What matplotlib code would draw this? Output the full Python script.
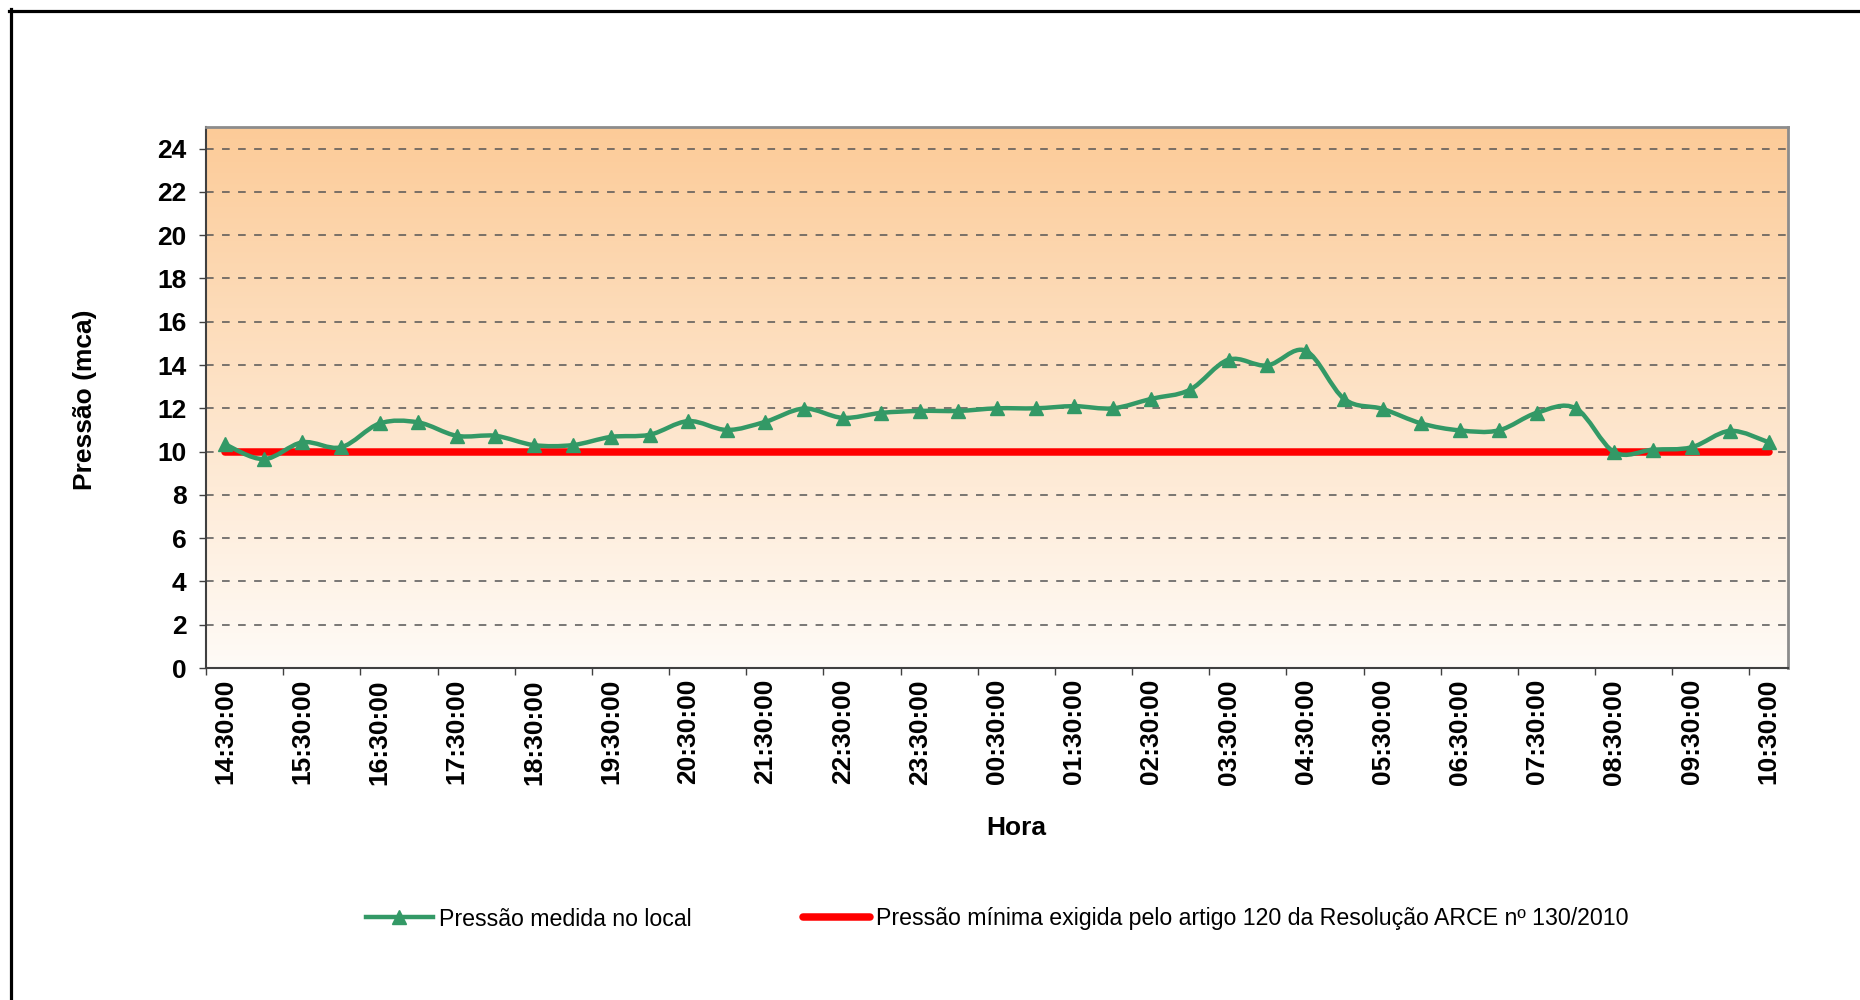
import numpy as np
import matplotlib
matplotlib.use("Agg")
import matplotlib.pyplot as plt
from matplotlib.path import Path
from matplotlib.patches import PathPatch
from matplotlib.lines import Line2D

plt.rcParams['font.family'] = ['Liberation Sans', 'DejaVu Sans']

# ---- data ----
horas = ["14:30:00", "15:00:00", "15:30:00", "16:00:00", "16:30:00", "17:00:00",
         "17:30:00", "18:00:00", "18:30:00", "19:00:00", "19:30:00", "20:00:00",
         "20:30:00", "21:00:00", "21:30:00", "22:00:00", "22:30:00", "23:00:00",
         "23:30:00", "00:00:00", "00:30:00", "01:00:00", "01:30:00", "02:00:00",
         "02:30:00", "03:00:00", "03:30:00", "04:00:00", "04:30:00", "05:00:00",
         "05:30:00", "06:00:00", "06:30:00", "07:00:00", "07:30:00", "08:00:00",
         "08:30:00", "09:00:00", "09:30:00", "10:00:00", "10:30:00"]
pressao_medida = [10.33, 9.65, 10.43, 10.2, 11.3, 11.35, 10.73, 10.73, 10.3, 10.3,
                  10.68, 10.78, 11.41, 11.0, 11.38, 11.99, 11.56, 11.79, 11.88, 11.88,
                  12.0, 12.0, 12.1, 12.0, 12.44, 12.86, 14.25, 13.98, 14.66, 12.43,
                  11.97, 11.3, 10.98, 10.98, 11.8, 12.0, 9.97, 10.09, 10.2, 10.96, 10.43]
pressao_minima = 10
yticks = list(range(0, 25, 2))

label_medida = "Pressão medida no local"
label_minima = "Pressão mínima exigida pelo artigo 120 da Resolução ARCE nº 130/2010"

GREEN = "#339966"
RED = "#FF0000"

W, H = 1860, 1000
fig = plt.figure(figsize=(W / 100, H / 100), dpi=100)
fig.patch.set_facecolor("white")

L, R, T, B = 206, 1788, 127, 668
ax = fig.add_axes([L / W, 1 - B / H, (R - L) / W, (B - T) / H])

# background gradient
top = np.array([252, 203, 152]) / 255
bot = np.array([255, 251, 247]) / 255
t = np.linspace(0, 1, 256)[:, None]
grad = (top[None, :] * (1 - t) + bot[None, :] * t)[:, None, :]
ax.imshow(grad, extent=[0, 1, 0, 1], transform=ax.transAxes, aspect='auto', zorder=0)

x = np.arange(len(horas))

# minimum pressure line
ax.plot(x, [pressao_minima] * len(x), color=RED, lw=5.4, solid_capstyle='round', zorder=3)

# smoothed measured line (Catmull-Rom as cubic Bezier)
pts = np.column_stack([x, pressao_medida]).astype(float)
verts = [tuple(pts[0])]
codes = [Path.MOVETO]
n = len(pts)
for i in range(n - 1):
    p0 = pts[i - 1] if i > 0 else pts[i]
    p1 = pts[i]
    p2 = pts[i + 1]
    p3 = pts[i + 2] if i + 2 < n else pts[i + 1]
    c1 = p1 + (p2 - p0) / 6.0
    c2 = p2 - (p3 - p1) / 6.0
    verts += [tuple(c1), tuple(c2), tuple(p2)]
    codes += [Path.CURVE4] * 3
ax.add_patch(PathPatch(Path(verts, codes), fill=False, edgecolor=GREEN, lw=3.2,
                       capstyle='round', joinstyle='round', zorder=4))
ax.plot(x, pressao_medida, linestyle='none', marker='^', markersize=10.5,
        color=GREEN, markeredgecolor=GREEN, zorder=5)

ax.set_xlim(-0.5, len(horas) - 0.5)
ax.set_ylim(0, 25)

# y axis
ax.set_yticks(yticks)
ax.set_yticklabels([str(v) for v in yticks], fontsize=19, fontweight='bold')
ax.tick_params(axis='y', direction='out', length=5, width=1, color='#404040', pad=9)
ax.yaxis.grid(True, linestyle=(0, (5, 5.5)), color='#555555', lw=1.1)
ax.set_axisbelow(True)

# x axis
ax.set_xticks(x[::2])
ax.set_xticklabels(horas[::2], rotation=90, fontsize=19, fontweight='bold', va='top')
ax.tick_params(axis='x', which='major', length=0, pad=8)
ax.set_xticks(np.arange(-0.5, len(horas) - 1, 2), minor=True)
ax.tick_params(axis='x', which='minor', direction='out', length=5, width=1, color='#404040')

for s in ['top', 'right']:
    ax.spines[s].set_color('#8c8c8c')
    ax.spines[s].set_linewidth(2)
for s in ['left', 'bottom']:
    ax.spines[s].set_color('#404040')
    ax.spines[s].set_linewidth(1.5)

fig.text(85 / W, 1 - 400 / H, "Pressão (mca)", rotation=90, ha='center', va='center',
         fontsize=19, fontweight='bold')
fig.text(1016 / W, 1 - 828 / H, "Hora", ha='center', va='center',
         fontsize=19, fontweight='bold')

handles = [Line2D([], [], color=GREEN, lw=3.2, marker='^', markersize=10.5),
           Line2D([], [], color=RED, lw=5.4, solid_capstyle='round')]
fig.legend(handles, [label_medida, label_minima], loc='center', ncol=2,
           bbox_to_anchor=(997 / W, 1 - 919 / H), frameon=False, fontsize=16.7,
           handlelength=2.9, handletextpad=0.25, columnspacing=4.8)

# outer frame (left and top visible)
fig.add_artist(Line2D([10.5 / W, 10.5 / W], [0, 1 - 9 / H], color='black', lw=2.3,
                      transform=fig.transFigure, solid_capstyle='projecting'))
fig.add_artist(Line2D([9 / W, 1], [1 - 10.5 / H, 1 - 10.5 / H], color='black', lw=2.3,
                      transform=fig.transFigure, solid_capstyle='projecting'))

fig.savefig("out.png", dpi=100)
